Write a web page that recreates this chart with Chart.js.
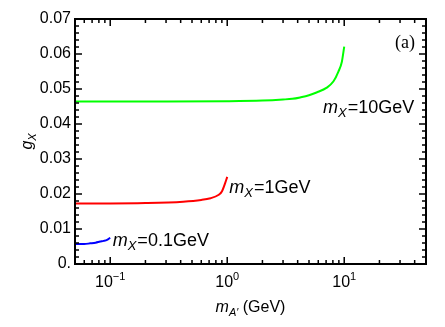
<!DOCTYPE html>
<html>
<head>
<meta charset="utf-8">
<script src="https://cdn.jsdelivr.net/npm/chart.js@4"></script>
<style>
    body { margin: 0; background: #fff; }
    #wrap { width: 445px; height: 327px; }
</style>
</head>
<body>
<div id="wrap"><canvas id="chart" width="445" height="327"></canvas></div>
<script>
// values (x in GeV, log axis)
const blueX = [0.05, 0.06, 0.0675, 0.075, 0.082, 0.088, 0.094, 0.1];
const blueY = [0.0057, 0.0057, 0.0059, 0.0061, 0.0064, 0.0066, 0.0069, 0.0075];

const redX = [0.05, 0.1, 0.2, 0.42, 0.6, 0.72, 0.84, 0.9, 0.96, 1.0];
const redY = [0.0173, 0.0173, 0.0174, 0.0178, 0.0183, 0.0188, 0.0197, 0.0207, 0.0231, 0.0249];

const greenX = [0.05, 0.3, 1, 2, 3, 3.6, 4.2, 5, 5.8, 7.1, 8.1, 8.9, 9.55, 10];
const greenY = [0.0464, 0.0464, 0.0465, 0.0467, 0.0470, 0.0472, 0.0476, 0.0482, 0.0490, 0.0504, 0.0522, 0.0549, 0.0578, 0.0621];

const curveNames = ['0.1GeV', '1GeV', '10GeV'];

const xMajor = [0.1, 1, 10];
const xExp = ['\u22121', '0', '1'];
const yMajor = [0, 0.01, 0.02, 0.03, 0.04, 0.05, 0.06, 0.07];
const yTickLabels = ['0.', '0.01', '0.02', '0.03', '0.04', '0.05', '0.06', '0.07'];

const X_MIN = 0.05, X_MAX = 50, Y_MIN = 0, Y_MAX = 0.07;

function toPoints(xs, ys) {
    return xs.map((x, i) => ({ x: x, y: ys[i] }));
}

const SANS = '"Liberation Sans", Arial, sans-serif';

// draw a run of text pieces one after another
function drawRich(ctx, parts, x, y, align) {
    let total = 0;
    parts.forEach((p) => {
        ctx.font = p.font;
        p.w = ctx.measureText(p.text).width + (p.gap || 0);
        total += p.w;
    });
    let cx = align === 'center' ? x - total / 2 : (align === 'right' ? x - total : x);
    parts.forEach((p) => {
        ctx.font = p.font;
        ctx.fillText(p.text, cx, y + (p.dy || 0));
        cx += p.w;
    });
}

function mxLabel(value) {
    return [
        { text: 'm', font: 'italic 18px ' + SANS },
        { text: 'X', font: 'italic 13px ' + SANS, dy: 4, gap: 1 },
        { text: '=' + value, font: '18px ' + SANS }
    ];
}

const framePlugin = {
    id: 'frame',
    afterDraw(chart) {
        const ctx = chart.ctx;
        const xs = chart.scales.x;
        const ys = chart.scales.y;
        const a = chart.chartArea;
        ctx.save();
        ctx.strokeStyle = '#000';
        ctx.fillStyle = '#000';

        // ticks on all four sides, pointing inward
        ctx.lineWidth = 1.5;
        ctx.beginPath();
        for (let d = -2; d <= 1; d++) {
            for (let m = 1; m <= 9; m++) {
                const v = m * Math.pow(10, d);
                if (v < X_MIN || v > X_MAX) continue;
                const px = xs.getPixelForValue(v);
                const len = m === 1 ? 7 : 4;
                ctx.moveTo(px, a.bottom); ctx.lineTo(px, a.bottom - len);
                ctx.moveTo(px, a.top); ctx.lineTo(px, a.top + len);
            }
        }
        for (let i = 0; i <= 35; i++) {
            const v = i * 0.002;
            const py = ys.getPixelForValue(v);
            const len = i % 5 === 0 ? 7 : 4;
            ctx.moveTo(a.left, py); ctx.lineTo(a.left + len, py);
            ctx.moveTo(a.right, py); ctx.lineTo(a.right - len, py);
        }
        ctx.stroke();

        ctx.lineWidth = 2;
        ctx.strokeRect(a.left, a.top, a.right - a.left, a.bottom - a.top);

        // y tick labels
        ctx.font = '16px ' + SANS;
        ctx.textAlign = 'right';
        ctx.textBaseline = 'middle';
        yMajor.forEach((v, i) => {
            ctx.fillText(yTickLabels[i], a.left - 4, ys.getPixelForValue(v));
        });

        // x tick labels, 10 with a raised exponent
        ctx.textAlign = 'left';
        ctx.textBaseline = 'alphabetic';
        xMajor.forEach((v, i) => {
            drawRich(ctx, [
                { text: '10', font: '16px ' + SANS },
                { text: xExp[i], font: '11px ' + SANS, dy: -7 }
            ], xs.getPixelForValue(v), a.bottom + 23, 'center');
        });

        // axis titles
        drawRich(ctx, [
            { text: 'm', font: 'italic 16px ' + SANS },
            { text: 'A\u2032', font: 'italic 11px ' + SANS, dy: 4 },
            { text: ' (GeV)', font: '16px ' + SANS }
        ], (a.left + a.right) / 2, a.bottom + 48, 'center');

        ctx.save();
        ctx.translate(32, (a.top + a.bottom) / 2);
        ctx.rotate(-Math.PI / 2);
        drawRich(ctx, [
            { text: 'g', font: 'italic 16px ' + SANS },
            { text: 'X', font: 'italic 11px ' + SANS, dy: 4 }
        ], 0, 0, 'center');
        ctx.restore();

        // curve labels, anchored in data space
        drawRich(ctx, mxLabel(curveNames[0]), xs.getPixelForValue(0.105), ys.getPixelForValue(0.0052), 'left');
        drawRich(ctx, mxLabel(curveNames[1]), xs.getPixelForValue(1.04), ys.getPixelForValue(0.0204), 'left');
        drawRich(ctx, mxLabel(curveNames[2]), xs.getPixelForValue(6.6), ys.getPixelForValue(0.0432), 'left');

        ctx.font = '18px "Liberation Serif", "Times New Roman", serif';
        ctx.textAlign = 'center';
        ctx.fillText('(a)', xs.getPixelForValue(33), ys.getPixelForValue(0.0618));

        ctx.restore();
    }
};

const lineStyle = {
    showLine: true,
    pointRadius: 0,
    borderWidth: 2,
    cubicInterpolationMode: 'monotone',
    fill: false
};

new Chart(document.getElementById('chart'), {
    type: 'scatter',
    data: {
        datasets: [
            Object.assign({ label: curveNames[0], data: toPoints(blueX, blueY), borderColor: 'rgb(0,0,255)' }, lineStyle),
            Object.assign({ label: curveNames[1], data: toPoints(redX, redY), borderColor: 'rgb(255,0,0)' }, lineStyle),
            Object.assign({ label: curveNames[2], data: toPoints(greenX, greenY), borderColor: 'rgb(0,255,0)' }, lineStyle)
        ]
    },
    options: {
        responsive: false,
        animation: false,
        layout: { padding: { left: 75, top: 19, right: 19, bottom: 63 } },
        plugins: { legend: { display: false }, tooltip: { enabled: false } },
        scales: {
            x: { type: 'logarithmic', min: X_MIN, max: X_MAX, display: false },
            y: { type: 'linear', min: Y_MIN, max: Y_MAX, display: false }
        }
    },
    plugins: [framePlugin]
});
</script>
</body>
</html>
